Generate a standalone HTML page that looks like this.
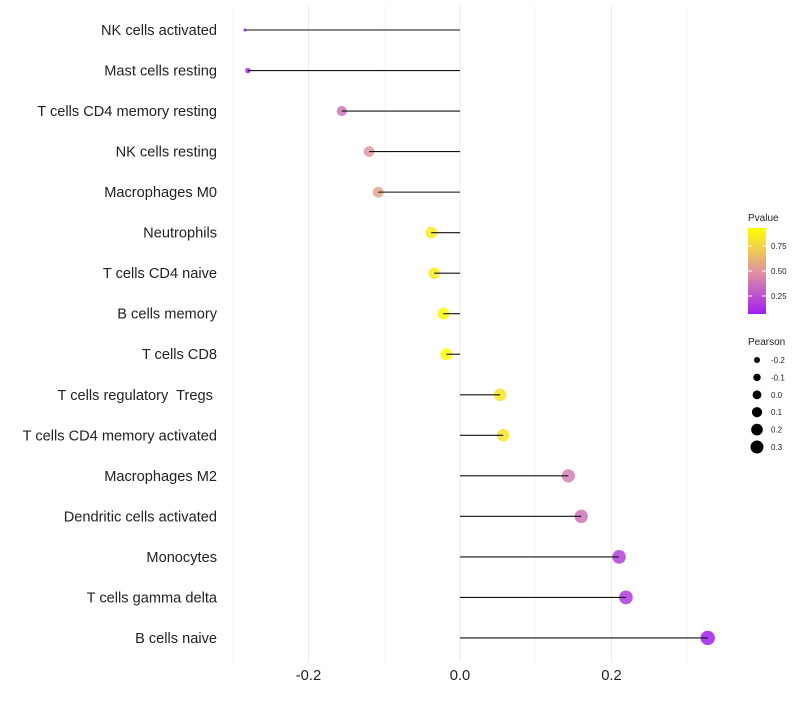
<!DOCTYPE html>
<html><head><meta charset="utf-8"><style>
body{margin:0;background:#fff;font-family:"Liberation Sans",sans-serif}
</style></head><body>
<svg id="c" width="800" height="700" xmlns="http://www.w3.org/2000/svg"></svg>
<script>
const categories=["NK cells activated","Mast cells resting","T cells CD4 memory resting","NK cells resting","Macrophages M0","Neutrophils","T cells CD4 naive","B cells memory","T cells CD8","T cells regulatory  Tregs ","T cells CD4 memory activated","Macrophages M2","Dendritic cells activated","Monocytes","T cells gamma delta","B cells naive"];
const pearson=[-0.284,-0.280,-0.156,-0.120,-0.108,-0.038,-0.034,-0.022,-0.018,0.053,0.057,0.143,0.160,0.210,0.219,0.327];
const pvalue=[0.02,0.03,0.35,0.5,0.55,0.88,0.88,0.95,0.97,0.85,0.85,0.4,0.35,0.15,0.12,0.01];
const xTicks=[-0.2,0,0.2];
const pTicks=[0.25,0.5,0.75];
const sizeTicks=[-0.2,-0.1,0,0.1,0.2,0.3];
const NS="http://www.w3.org/2000/svg";
const svg=document.getElementById('c');
function el(t,a,p){const e=document.createElementNS(NS,t);for(const k in a)e.setAttribute(k,a[k]);(p||svg).appendChild(e);return e;}
const x=v=>460+v*757.5;
const y=i=>30+i*40.53;
const r=v=>1.5+5.7*Math.pow(Math.max(0,(v+0.284)/0.611),0.3);
function lerp(a,b,t){return a.map((c,i)=>Math.round(c+(b[i]-c)*t));}
function col(p){const t=Math.min(1,Math.max(0,(p-0.01)/0.96));const lo=[160,32,240],mid=[224,150,160],hi=[255,255,0];const c=t<0.5?lerp(lo,mid,t*2):lerp(mid,hi,(t-0.5)*2);return `rgb(${c})`;}
[-0.3,-0.2,-0.1,0,0.1,0.2,0.3].forEach(v=>{const g=el('line',{x1:x(v),x2:x(v),y1:5,y2:662,stroke:Math.round(Math.abs(v*10))%2===1?'#f6f6f6':'#ebebeb','stroke-width':1});

});
xTicks.forEach(v=>{const t=el('text',{x:x(v),y:680,'text-anchor':'middle','font-size':14.8,fill:'#222'});t.textContent=v===0?'0.0':v.toFixed(1);

});
categories.forEach((c,i)=>{
const t=el('text',{x:217,y:y(i)+5,'text-anchor':'end','font-size':14.6,fill:'#222','xml:space':'preserve',style:'white-space:pre'});t.textContent=c;


const d=el('circle',{cx:x(pearson[i]),cy:y(i),r:r(pearson[i]),fill:col(pvalue[i]),'fill-opacity':0.85});


const l=el('line',{x1:x(0),x2:x(pearson[i]),y1:y(i),y2:y(i),stroke:'#111','stroke-width':1.1});


});
let t=el('text',{x:748,y:221,'font-size':10,fill:'#222'});t.textContent='Pvalue';


const defs=el('defs',{});const gr=el('linearGradient',{id:'g',x1:0,y1:1,x2:0,y2:0},defs);
[0,0.25,0.5,0.75,1].forEach(s=>el('stop',{offset:s,'stop-color':col(0.01+s*0.96)},gr));
const pb=v=>314-(v-0.07)/(0.93-0.07)*86;
const cb=el('rect',{x:748,y:228,width:18,height:86,fill:'url(#g)'});


pTicks.forEach(v=>{el('line',{x1:748,x2:752,y1:pb(v),y2:pb(v),stroke:'#fff'});el('line',{x1:762,x2:766,y1:pb(v),y2:pb(v),stroke:'#fff'});
const tt=el('text',{x:771,y:pb(v)+3,'font-size':8,fill:'#222'});tt.textContent=v.toFixed(2);

});
t=el('text',{x:748,y:345,'font-size':10,fill:'#222'});t.textContent='Pearson';


sizeTicks.forEach((v,i)=>{const cy=360+i*17.4;
const c=el('circle',{cx:757,cy:cy,r:3+(v+0.2)*7,fill:'#000'});


const tt=el('text',{x:771,y:cy+3,'font-size':8,fill:'#222'});tt.textContent=v===0?'0.0':v.toFixed(1);

});
</script>
</body></html>
